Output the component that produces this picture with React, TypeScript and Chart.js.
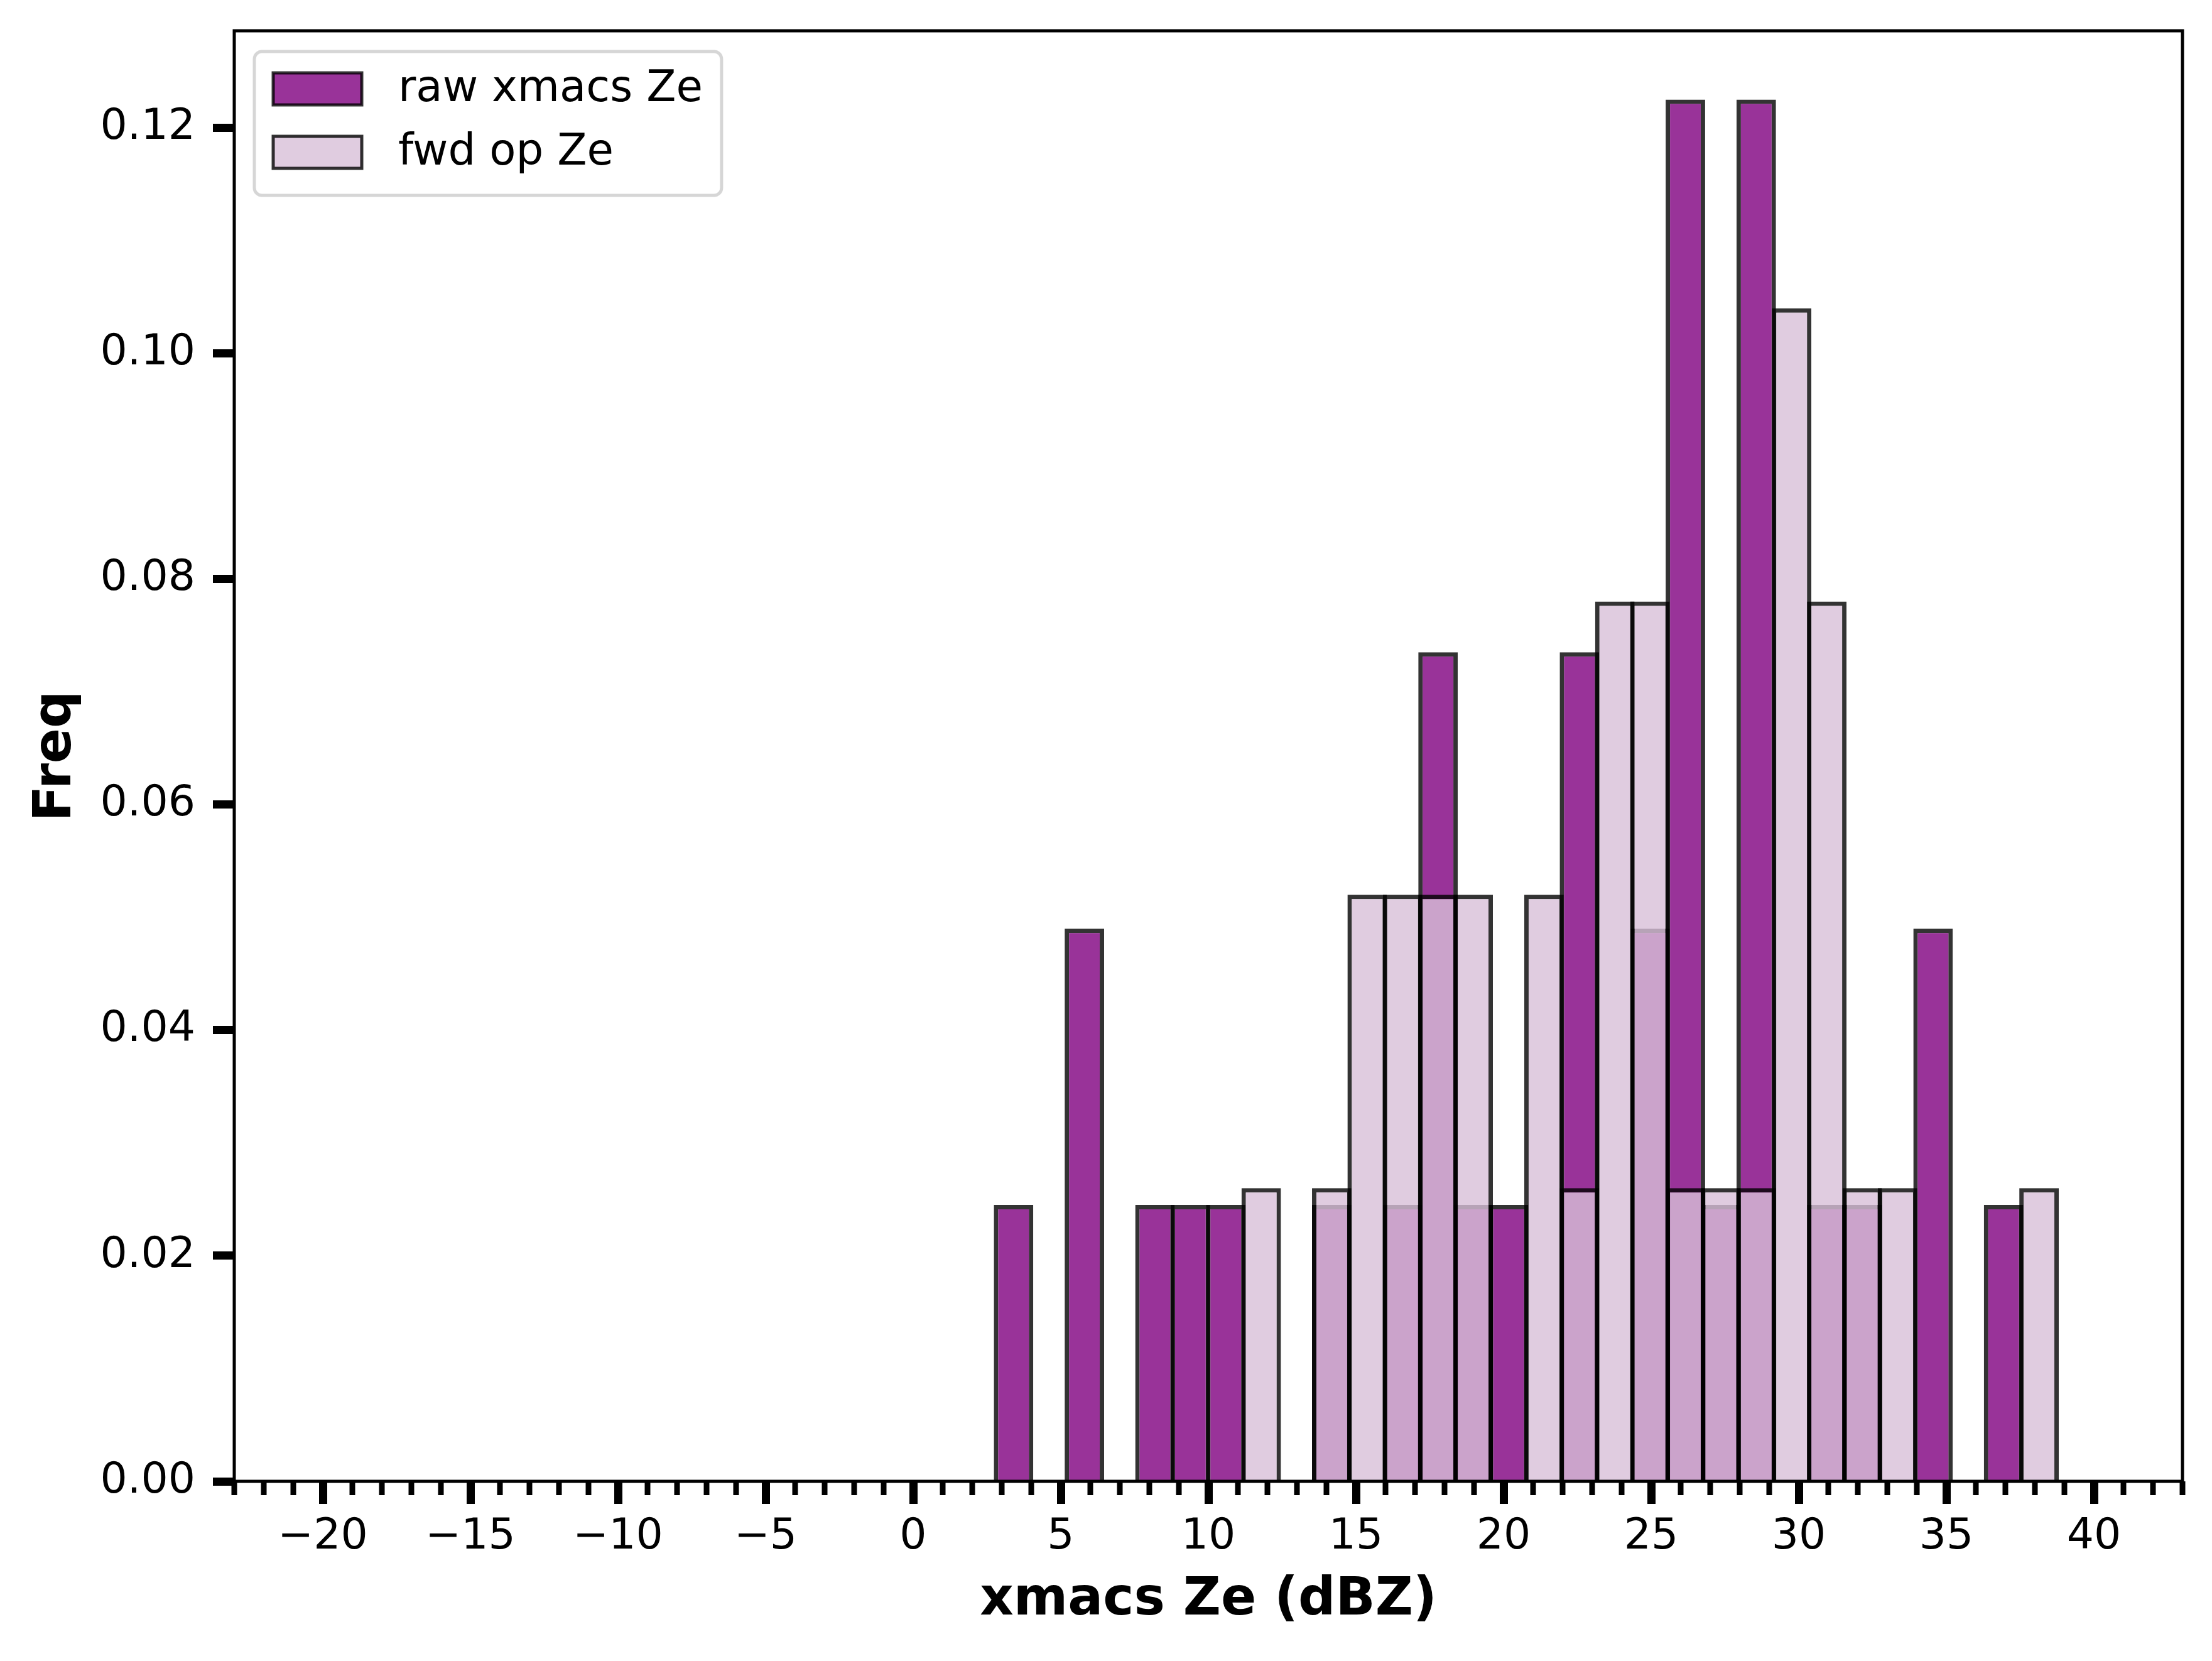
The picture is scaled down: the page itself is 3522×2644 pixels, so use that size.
import { useEffect, useRef } from 'react';
import { Chart, registerables } from 'chart.js';

Chart.register(...registerables);

// histogram bin centres (dBZ), shared by both series
const binCenters = [3.40, 4.60, 5.80, 6.99, 8.19, 9.39, 10.59, 11.79, 12.98, 14.18,
  15.38, 16.58, 17.78, 18.97, 20.17, 21.37, 22.57, 23.77, 24.96, 26.16,
  27.36, 28.56, 29.76, 30.95, 32.15, 33.35, 34.55, 35.75, 36.94, 38.14];

const rawFreq = [0.0245, 0, 0.049, 0, 0.0245, 0.0245, 0.0245, 0, 0, 0.0245,
  0, 0.0245, 0.0735, 0.0245, 0.0245, 0, 0.0735, 0, 0.049, 0.1225,
  0.0245, 0.1225, 0, 0.0245, 0.0245, 0, 0.049, 0, 0.0245, 0];

const fwdFreq = [0, 0, 0, 0, 0, 0, 0, 0.026, 0, 0.026,
  0.052, 0.052, 0.052, 0.052, 0, 0.052, 0.026, 0.078, 0.078, 0.026,
  0.026, 0.026, 0.104, 0.078, 0.026, 0.026, 0, 0, 0, 0.026];

const seriesLabels = ['raw xmacs Ze', 'fwd op Ze'];

const xMin = -23;
const xMax = 43;
const xStep = 5;
const yMin = 0;
const yMax = 0.1286;
const yStep = 0.02;

const FONT = '"DejaVu Sans", sans-serif';
const W = 3522;
const H = 2644;

const toPoints = (vals: number[]) =>
  binCenters.map((x, i) => ({ x, y: vals[i] > 0 ? vals[i] : null }));

// unlabelled 1 dBZ ticks between the major ones
const minorTicks = {
  id: 'minorTicks',
  afterDraw(chart: any) {
    const { ctx, chartArea, scales } = chart;
    const xs = scales.x;
    ctx.save();
    ctx.strokeStyle = '#000';
    ctx.lineWidth = 9;
    ctx.beginPath();
    for (let v = Math.ceil(xs.min); v <= xs.max; v++) {
      if (v % xStep === 0) continue;
      const px = xs.getPixelForValue(v);
      ctx.moveTo(px, chartArea.bottom);
      ctx.lineTo(px, chartArea.bottom + 22);
    }
    ctx.stroke();
    ctx.restore();
  }
};

const frame = {
  id: 'frame',
  afterDatasetsDraw(chart: any) {
    const { ctx, chartArea: a } = chart;
    ctx.save();
    ctx.strokeStyle = '#000';
    ctx.lineWidth = 5;
    ctx.strokeRect(a.left, a.top, a.right - a.left, a.bottom - a.top);
    ctx.restore();
  }
};

const boxLegend = {
  id: 'boxLegend',
  afterDraw(chart: any) {
    const { ctx, chartArea } = chart;
    const sets = chart.data.datasets;
    const x0 = chartArea.left + 32;
    const y0 = chartArea.top + 33;
    ctx.save();
    ctx.font = `69px ${FONT}`;
    const textW = Math.max(...sets.map((d: any) => ctx.measureText(d.label).width));
    const w = 229 + textW + 30;
    const h = 229;
    ctx.beginPath();
    ctx.roundRect(x0, y0, w, h, 12);
    ctx.fillStyle = 'rgba(255,255,255,0.8)';
    ctx.fill();
    ctx.lineWidth = 5;
    ctx.strokeStyle = 'rgba(204,204,204,0.8)';
    ctx.stroke();
    sets.forEach((d: any, i: number) => {
      const cy = y0 + 59 + i * 101;
      ctx.fillStyle = d.backgroundColor;
      ctx.fillRect(x0 + 30, cy - 25, 141, 51);
      ctx.lineWidth = 5;
      ctx.strokeStyle = d.borderColor;
      ctx.strokeRect(x0 + 30, cy - 25, 141, 51);
      ctx.fillStyle = '#000';
      ctx.textBaseline = 'middle';
      ctx.textAlign = 'left';
      ctx.fillText(d.label, x0 + 229, cy + 2);
    });
    ctx.restore();
  }
};

const fmtX = (v: number) => (v < 0 ? '\u2212' + Math.abs(v) : String(v));

const App = () => {
  const chartRef = useRef<HTMLCanvasElement>(null);

  useEffect(() => {
    const config: any = {
      type: 'bar',
      data: {
        datasets: [{
          label: seriesLabels[0],
          data: toPoints(rawFreq),
          backgroundColor: 'rgba(128,0,128,0.8)',
          borderColor: 'rgba(0,0,0,0.8)',
          borderWidth: 7,
          order: 2
        }, {
          label: seriesLabels[1],
          data: toPoints(fwdFreq),
          backgroundColor: 'rgba(216,191,216,0.8)',
          borderColor: 'rgba(0,0,0,0.8)',
          borderWidth: 7,
          order: 1
        }]
      },
      options: {
        animation: false,
        responsive: false,
        events: [],
        layout: { padding: { top: 49, right: W - 3475, left: 0, bottom: 0 } },
        datasets: {
          bar: { grouped: false, barPercentage: 1.124, categoryPercentage: 1 }
        },
        plugins: {
          legend: { display: false },
          tooltip: { enabled: false }
        },
        scales: {
          x: {
            type: 'linear',
            min: xMin,
            max: xMax,
            offset: false,
            grid: {
              offset: false,
              drawOnChartArea: false,
              drawTicks: true,
              tickLength: 36,
              tickWidth: 13,
              tickColor: '#000'
            },
            border: { display: false },
            ticks: {
              stepSize: xStep,
              includeBounds: false,
              autoSkip: false,
              maxRotation: 0,
              padding: 13,
              color: '#000',
              font: { family: FONT, size: 68 },
              callback: (v: number) => fmtX(v)
            },
            title: {
              display: true,
              text: 'xmacs Ze (dBZ)',
              color: '#000',
              font: { family: FONT, size: 83, weight: 'bold' },
              padding: { top: 0, bottom: 46 }
            },
            afterFit: (s: any) => {
              s.height = H - 2358;
              s.paddingLeft = 0;
              s.paddingRight = 0;
            }
          },
          y: {
            type: 'linear',
            min: yMin,
            max: yMax,
            grid: {
              drawOnChartArea: false,
              drawTicks: true,
              tickLength: 34,
              tickWidth: 13,
              tickColor: '#000'
            },
            border: { display: false },
            ticks: {
              stepSize: yStep,
              includeBounds: false,
              padding: 28,
              color: '#000',
              font: { family: FONT, size: 68 },
              callback: (v: number) => v.toFixed(2)
            },
            title: {
              display: true,
              text: 'Freq',
              color: '#000',
              font: { family: FONT, size: 83, weight: 'bold' },
              padding: { top: 41, bottom: 0 }
            },
            afterFit: (s: any) => {
              s.width = 373;
              s.paddingTop = 0;
              s.paddingBottom = 0;
            }
          }
        }
      },
      plugins: [frame, minorTicks, boxLegend]
    };

    const myChart = new Chart(chartRef.current as HTMLCanvasElement, config);

    return () => {
      myChart.destroy();
    };
  }, []);

  return (
    <div style={{ position: 'fixed', left: 0, top: 0, width: W, height: H, background: '#fff' }}>
      <canvas ref={chartRef} width={W} height={H} style={{ display: 'block' }}></canvas>
    </div>
  );
};

export default App;
